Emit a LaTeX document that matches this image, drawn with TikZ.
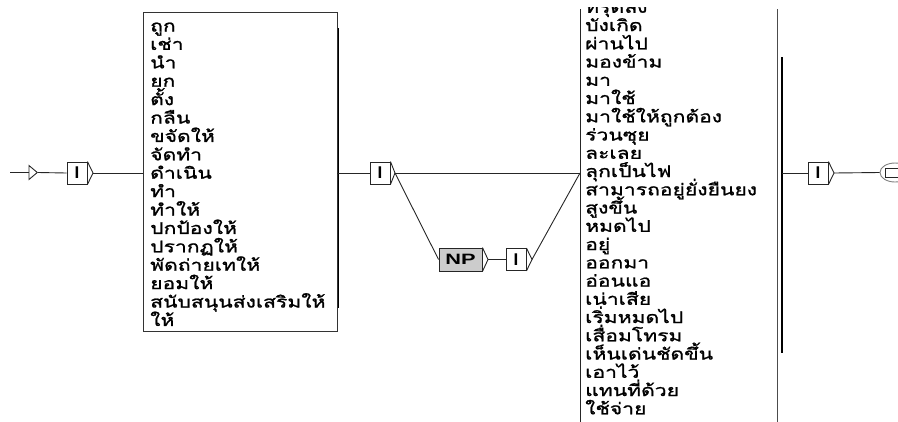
\documentclass[tikz,border=0pt]{standalone}
\usepackage{fontspec}
\setmainfont{Liberation Sans}
\newfontfamily\thai[Script=Thai, FakeStretch=1.32, FakeBold=1.2]{Loma}
\usetikzlibrary{shapes.geometric}
\tikzset{
  ln/.style={line width=0.9pt, draw=black!85},
  ibox/.style={draw=black!85, fill=white, line width=0.9pt, minimum width=20pt, minimum height=22pt, inner sep=0pt, font=\bfseries\fontsize{17}{17}\selectfont},
  npbox/.style={draw=black!85, fill=black!20, line width=0.9pt, minimum width=43pt, minimum height=23pt, inner sep=0pt, font=\bfseries\fontsize{15}{15}\selectfont},
  word/.style={anchor=base west, inner sep=0pt, font=\thai\fontsize{16}{16}\selectfont},
  chev/.style={line width=0.9pt, draw=black!85, line join=miter},
}
\begin{document}
\begin{tikzpicture}[x=1pt,y=-1pt]
\useasboundingbox (0,0) rectangle (898,421);
% start arrow
\coordinate (s0) at (10,172.5);
\node[draw=black!85, line width=0.9pt, isosceles triangle, isosceles triangle apex angle=80, minimum height=6pt, minimum width=14pt, inner sep=0pt, anchor=apex] (st) at (38,172.5) {};
% first I box
\node[ibox] (i1) at (77,173) {I};
\coordinate (i1t) at (93,173);
% left word box
\node[draw=black!80, line width=0.8pt, minimum width=194pt, minimum height=319pt, inner sep=0pt] (lbox) at (240,171.5) {};
\draw[line width=1.4pt, black] (338.6,28) -- (338.6,308);
\foreach \w [count=\i from 0] in {ถูก,เช่า,นำ,ยก,ตั้ง,กลืน,ขจัดให้,จัดทำ,ดำเนิน,ทำ,ทำให้,ปกป้องให้,ปรากฏให้,พัดถ่ายเทให้,ยอมให้,สนับสนุนส่งเสริมให้,ให้}
  \node[word] (L\i) at (150,31.5+\i*18.4) {\w};
% middle I box
\node[ibox] (i2) at (380,173) {I};
\coordinate (i2t) at (395,173);
% NP and I below
\node[npbox] (np) at (460.5,259.5) {\scalebox{1.45}[1]{NP}};
\coordinate (npt) at (488,259.5);
\node[ibox] (i3) at (516,259.5) {I};
\coordinate (i3t) at (532,259.5);
% right word box
\node[minimum width=197pt, minimum height=440pt, inner sep=0pt, anchor=north west] (rbox) at (580,9) {};
\draw[ln] (rbox.north west) -- (rbox.south west);
\draw[line width=1.2pt, black!70] (rbox.north east) -- (rbox.south east);
\draw[line width=1.1pt, black] (782,57) -- (782,353);
\begin{scope}
\clip (570,7) rectangle (790,421);
\foreach \w [count=\i from 0] in {ทรุดลง,บังเกิด,ผ่านไป,มองข้าม,มา,มาใช้,มาใช้ให้ถูกต้อง,ร่วนซุย,ละเลย,ลุกเป็นไฟ,สามารถอยู่ยั่งยืนยง,สูงขึ้น,หมดไป,อยู่,ออกมา,อ่อนแอ,เน่าเสีย,เริ่มหมดไป,เสื่อมโทรม,เห็นเด่นชัดขึ้น,เอาไว้,แทนที่ด้วย,ใช้จ่าย}
  \node[word] (R\i) at (585,12.75+\i*18.25) {\w};
\end{scope}
% last I box and end
\node[ibox] (i4) at (818,173) {I};
\coordinate (i4t) at (834,173);
\node[draw=black!50, line width=0.9pt, ellipse, minimum width=30pt, minimum height=19pt, inner sep=0pt] (fin) at (895,172.5) {};
\node[draw=black!85, line width=0.9pt, minimum width=13pt, minimum height=9pt, inner sep=0pt] (finsq) at (892,172.5) {};
% chevrons
\foreach \b in {i1,i2,i3,i4} \draw[chev] (\b.north east) -- (\b t) -- (\b.south east);
\draw[chev] (np.north east) -- (npt) -- (np.south east);
% connectors
\draw[ln] (s0) -- (st.west);
\draw[ln] (st.apex) -- (i1.west);
\draw[ln] (i1t) -- (lbox.west |- i1t);
\draw[ln] (lbox.east |- i2) -- (i2.west);
\draw[ln] (i2t) -- (rbox.west |- i2t);
\draw[ln] (i2t) -- (np.west);
\draw[ln] (npt) -- (i3.west);
\draw[ln] (i3t) -- (rbox.west |- i2t);
\draw[ln] (782,173) -- (i4.west);
\draw[ln] (i4t) -- (fin.west);
\end{tikzpicture}
\end{document}
